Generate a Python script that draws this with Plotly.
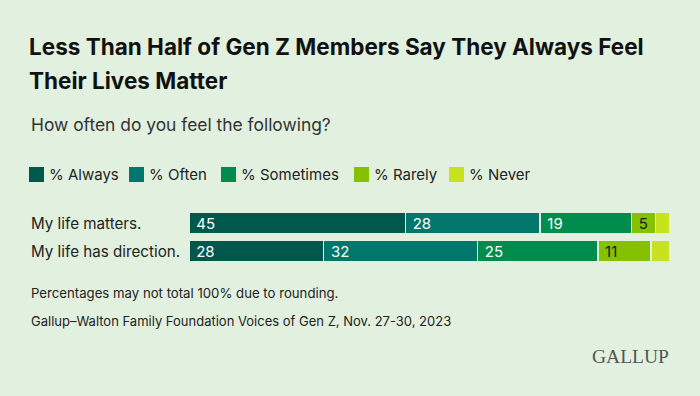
import plotly.graph_objects as go

categories = ["My life matters.", "My life has direction."]
series_names = ["% Always", "% Often", "% Sometimes", "% Rarely", "% Never"]
always = [45, 28]
often = [28, 32]
sometimes = [19, 25]
rarely = [5, 11]
never = [3, 4]
values = [always, often, sometimes, rarely, never]
show_labels = [True, True, True, True, False]

colors = ["#00574c", "#00776a", "#008c4c", "#86c100", "#c9e21f"]
text_colors = ["#ffffff", "#ffffff", "#ffffff", "#1a1a1a", "#1a1a1a"]
BG = "#e2f1df"

W, H = 700, 396
L, R, T, B = 189, 670, 209, 265


def xp(px):
    return (px - L) / (R - L)


def yp(py):
    return (B - py) / (B - T)


FONT = "Inter, Roboto, sans-serif"

fig = go.Figure()
for name, vals, col, tcol, lab in zip(series_names, values, colors, text_colors, show_labels):
    fig.add_trace(go.Bar(
        y=categories, x=vals, name=name, orientation="h",
        marker=dict(color=col, line=dict(color=BG, width=1.5)),
        text=["\u00a0" + str(v) if lab else "" for v in vals],
        textposition="inside" if lab else "none",
        insidetextanchor="start", textangle=0, constraintext="none",
        textfont=dict(color=tcol, size=15, family=FONT),
        hoverinfo="skip", showlegend=False,
    ))

annotations = []
for c in categories:
    annotations.append(dict(x=xp(29), xref="paper", y=c, yref="y", text=c,
                            showarrow=False, xanchor="left", yanchor="middle",
                            font=dict(size=15.2, color="#222", family=FONT)))

shapes = []
legend_x = [29, 129, 221, 354, 449]
for name, col, lx in zip(series_names, colors, legend_x):
    shapes.append(dict(type="rect", xref="paper", yref="paper",
                       x0=xp(lx), x1=xp(lx + 15), y0=yp(182), y1=yp(167),
                       fillcolor=col, line=dict(width=0)))
    annotations.append(dict(x=xp(lx + 18), xref="paper", y=yp(174.5), yref="paper",
                            text=name, showarrow=False, xanchor="left", yanchor="middle",
                            font=dict(size=15, color="#222", family=FONT)))

title_lines = ["Less Than Half of Gen Z Members Say They Always Feel", "Their Lives Matter"]
for line, ty in zip(title_lines, [46, 80]):
    annotations.append(dict(x=xp(27), y=yp(ty), xref="paper", yref="paper",
                            xanchor="left", yanchor="middle",
                            text="<b>" + line + "</b>", showarrow=False,
                            font=dict(size=22.5, color="#111", family=FONT)))

annotations += [
    dict(x=xp(29), y=yp(124), xref="paper", yref="paper", xanchor="left", yanchor="middle",
         text="How often do you feel the following?", showarrow=False,
         font=dict(size=17.4, color="#333", family=FONT)),
    dict(x=xp(29), y=yp(293), xref="paper", yref="paper", xanchor="left", yanchor="middle",
         text="Percentages may not total 100% due to rounding.", showarrow=False,
         font=dict(size=13.2, color="#222", family=FONT)),
    dict(x=xp(29), y=yp(321), xref="paper", yref="paper", xanchor="left", yanchor="middle",
         text="Gallup\u2013Walton Family Foundation Voices of Gen Z, Nov. 27-30, 2023", showarrow=False,
         font=dict(size=13, color="#222", family=FONT)),
    dict(x=xp(671), y=yp(356), xref="paper", yref="paper", xanchor="right", yanchor="middle",
         text="GALLUP", showarrow=False,
         font=dict(size=19.5, color="#555", family="Liberation Serif, serif")),
]

fig.update_layout(
    width=W, height=H, barmode="stack", bargap=0.2,
    paper_bgcolor=BG, plot_bgcolor=BG,
    margin=dict(l=L, r=W - R, t=T, b=H - B),
    xaxis=dict(range=[0, 100], visible=False, fixedrange=True),
    yaxis=dict(autorange="reversed", visible=False, fixedrange=True),
    annotations=annotations, shapes=shapes,
    uniformtext=dict(minsize=15, mode="show"),
)

fig.write_html("out.html", config={"displayModeBar": False},
               post_script="document.body.style.margin='0';document.body.style.background='" + BG + "';")
